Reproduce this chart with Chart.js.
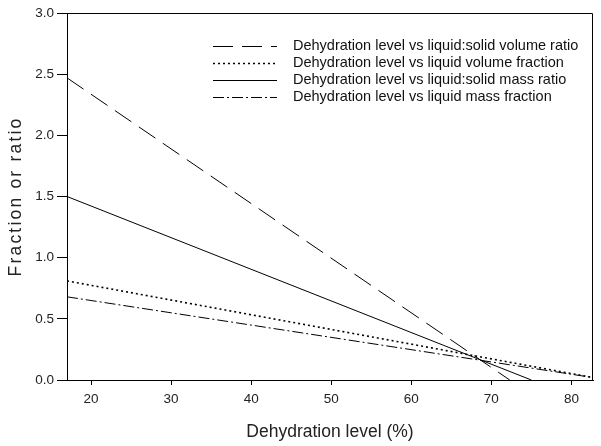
<!DOCTYPE html>
<html>
<head>
<meta charset="utf-8">
<script src="https://cdn.jsdelivr.net/npm/chart.js@4/dist/chart.umd.min.js"></script>
<style>
  html, body { margin: 0; padding: 0; background: #fff; }
  #wrap { width: 601px; height: 446px; position: relative; }
</style>
</head>
<body>
<div id="wrap"><canvas id="c" width="601" height="446"></canvas></div>
<script>
// ---- Data ----
const seriesLabels = [
  "Dehydration level vs liquid:solid volume ratio",
  "Dehydration level vs liquid volume fraction",
  "Dehydration level vs liquid:solid mass ratio",
  "Dehydration level vs liquid mass fraction"
];
const volumeRatioX = [17, 72.3];
const volumeRatioY = [2.47, 0];
const volumeFractionX = [17, 82.7];
const volumeFractionY = [0.81, 0.02];
const massRatioX = [17, 75.0];
const massRatioY = [1.50, 0];
const massFractionX = [17, 82.7];
const massFractionY = [0.68, 0.02];
const xTicks = [20, 30, 40, 50, 60, 70, 80];
const yTicks = [0, 0.5, 1.0, 1.5, 2.0, 2.5, 3.0];
const xTitle = "Dehydration level (%)";
const yTitle = "Fraction or ratio";

const pts = (xs, ys) => xs.map((x, i) => ({ x: x, y: ys[i] }));
const FONT = "'Liberation Sans', Arial, sans-serif";

const legendPlugin = {
  id: 'customLegend',
  afterDraw(chart) {
    const ctx = chart.ctx;
    const rows = [46, 63, 80, 97];
    ctx.save();
    chart.data.datasets.forEach((ds, i) => {
      const y = rows[i] + 0.5;
      ctx.beginPath();
      ctx.setLineDash(ds.borderDash || []);
      ctx.lineWidth = ds.borderWidth;
      ctx.strokeStyle = ds.borderColor;
      ctx.moveTo(213, y);
      ctx.lineTo(277, y);
      ctx.stroke();
      ctx.setLineDash([]);
      ctx.fillStyle = '#111';
      ctx.font = '14.5px ' + FONT;
      ctx.textBaseline = 'middle';
      ctx.textAlign = 'left';
      ctx.fillText(ds.label, 293, rows[i]);
    });
    ctx.restore();
  }
};

const framePlugin = {
  id: 'frame',
  afterDatasetsDraw(chart) {
    const a = chart.chartArea;
    const ctx = chart.ctx;
    ctx.save();
    ctx.strokeStyle = '#000';
    ctx.lineWidth = 1;
    ctx.beginPath();
    ctx.moveTo(Math.round(a.left) + 0.5, Math.round(a.top) + 0.5);
    ctx.lineTo(Math.round(a.right) - 0.5, Math.round(a.top) + 0.5);
    ctx.lineTo(Math.round(a.right) - 0.5, Math.round(a.bottom) + 0.5);
    ctx.stroke();
    ctx.restore();
  }
};

const chart = new Chart(document.getElementById('c'), {
  type: 'scatter',
  data: {
    datasets: [
      { label: seriesLabels[0], data: pts(volumeRatioX, volumeRatioY), borderDash: [20, 9] , borderWidth: 1 },
      { label: seriesLabels[1], data: pts(volumeFractionX, volumeFractionY), borderDash: [2, 3], borderWidth: 1.6 },
      { label: seriesLabels[2], data: pts(massRatioX, massRatioY), borderDash: [], borderWidth: 1 },
      { label: seriesLabels[3], data: pts(massFractionX, massFractionY), borderDash: [11, 3, 2, 3], borderWidth: 1 }
    ].map(d => Object.assign(d, {
      showLine: true, borderColor: '#000', backgroundColor: '#000',
      pointRadius: 0, pointHoverRadius: 0, fill: false, tension: 0
    }))
  },
  options: {
    responsive: false,
    animation: false,
    events: [],
    layout: { padding: { top: 13, right: 8, left: 0, bottom: 0 } },
    plugins: { legend: { display: false }, tooltip: { enabled: false } },
    scales: {
      x: {
        type: 'linear',
        min: 17, max: 82.7,
        afterBuildTicks: s => { s.ticks = xTicks.map(v => ({ value: v })); },
        afterFit: s => { s.height = 66; },
        grid: { display: true, drawOnChartArea: false, drawTicks: true, tickLength: 5, color: '#000', lineWidth: 1 },
        border: { display: true, color: '#000', width: 1 },
        ticks: { color: '#222', font: { family: FONT, size: 13.5 }, padding: 6, maxRotation: 0 },
        title: { display: true, text: xTitle, color: '#222', font: { family: FONT, size: 17.5 }, padding: { top: 0, bottom: 3 } }
      },
      y: {
        type: 'linear',
        min: 0, max: 3,
        afterBuildTicks: s => { s.ticks = yTicks.map(v => ({ value: v })); },
        afterFit: s => { s.width = 67; },
        grid: { display: true, drawOnChartArea: false, drawTicks: true, tickLength: 10, color: '#000', lineWidth: 1 },
        border: { display: true, color: '#000', width: 1 },
        ticks: { color: '#222', font: { family: FONT, size: 13.5 }, padding: 3, callback: v => Number(v).toFixed(1) },
        title: { display: true, text: yTitle, color: '#222', font: { family: FONT, size: 17.5 }, padding: { top: 6, bottom: 0 } }
      }
    }
  },
  plugins: [legendPlugin, framePlugin]
});

// the reference's y-axis title is spaced out more widely than normal text
const yScale = chart.scales.y;
const origDrawTitle = yScale.drawTitle.bind(yScale);
yScale.drawTitle = function () {
  const ctx = this.ctx;
  const prev = ctx.letterSpacing;
  ctx.letterSpacing = '2.2px';
  origDrawTitle();
  ctx.letterSpacing = prev || '0px';
};
chart.draw();
</script>
</body>
</html>
